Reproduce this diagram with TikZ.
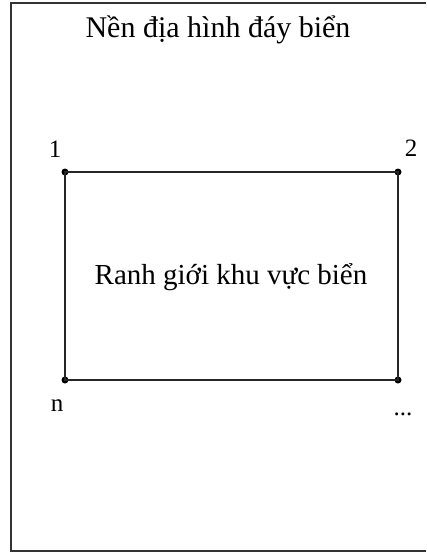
\documentclass[tikz,border=0pt]{standalone}
\usepackage{fontspec}
\setmainfont{Liberation Serif}
\begin{document}
\begin{tikzpicture}[x=1pt,y=-1pt,
  frame/.style={draw=black!80,line width=1.4pt},
  edge/.style={draw=black!85,line width=1.2pt},
  corner/.style={circle,fill=black,inner sep=0pt,minimum size=7pt},
  lbl/.style={font=\fontsize{25}{28}\selectfont,inner sep=0pt},
  big/.style={font=\fontsize{30}{34}\selectfont,inner sep=0pt},
  mid/.style={font=\fontsize{29}{33}\selectfont,inner sep=0pt}]
\useasboundingbox (0,0) rectangle (427,552);
\coordinate (f1) at (11,551);
\coordinate (f2) at (11,3);
\coordinate (f3) at (426,3);
\coordinate (f4) at (426,551);
\draw[frame] (f4) -- (f1) -- (f2) -- (f3);
\node[big] (title) at (218,30) {Nền địa hình đáy biển};
\node[corner] (c1) at (65,172) {};
\node[corner] (c2) at (398,172) {};
\node[corner] (c3) at (398,380) {};
\node[corner] (c4) at (65,380) {};
\draw[edge] (c1.center) -- (c2.center) -- (c3.center) -- (c4.center) -- cycle;
\node[mid] (midtext) at (231,277) {Ranh giới khu vực biển};
\node[lbl] (l1) at (55,149) {1};
\node[lbl] (l2) at (411,148) {2};
\node[lbl] (ln) at (57,406) {n};
\node[lbl] (ld) at (403,414) {...};
\end{tikzpicture}
\end{document}
